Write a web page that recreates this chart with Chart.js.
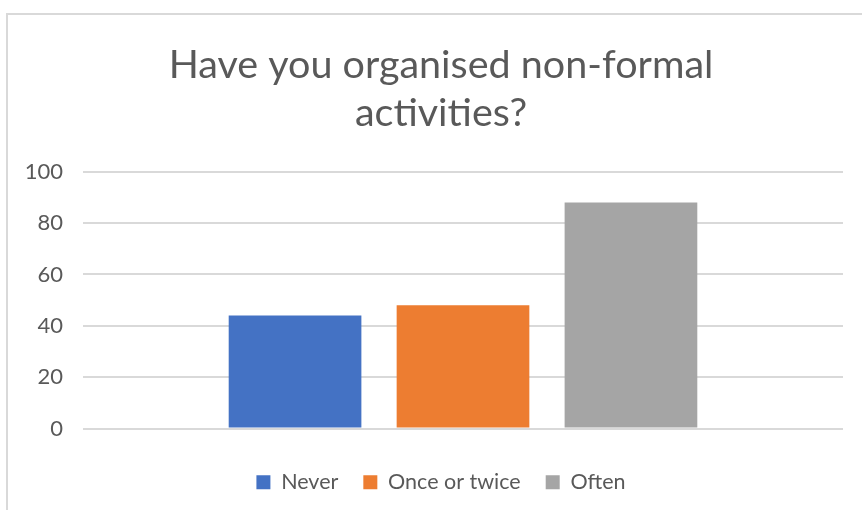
<!DOCTYPE html>
<html>
<head>
<meta charset="utf-8">
<script src="https://cdn.jsdelivr.net/npm/chart.js@4"></script>
<style>
    html, body { margin: 0; padding: 0; background: #ffffff; }
    #graph-container { width: 862px; height: 510px; position: relative; }
</style>
</head>
<body>
<div id="graph-container">
    <canvas id="myChart" width="862" height="510"></canvas>
</div>
<script>
// single category, one dataset per answer
var categories = [''];
var seriesNames = ['Never', 'Once or twice', 'Often'];
var seriesValues = [44, 48, 88];
var seriesColors = ['#4472C4', '#ED7D31', '#A5A5A5'];
var yTicks = [0, 20, 40, 60, 80, 100];

var textColor = '#595959';
var fontFamily = 'Lato, "Open Sans", sans-serif';

// thin grey frame round the chart (only left and top edges are on screen)
var framePlugin = {
    id: 'frame',
    beforeDraw: function (chart) {
        var ctx = chart.ctx;
        ctx.save();
        ctx.strokeStyle = '#D9D9D9';
        ctx.lineWidth = 2;
        ctx.beginPath();
        ctx.moveTo(7, chart.height);
        ctx.lineTo(7, 14);
        ctx.lineTo(chart.width, 14);
        ctx.stroke();
        ctx.restore();
    }
};

var datasets = [];
for (var i = 0; i < seriesNames.length; i++) {
    datasets.push({
        label: seriesNames[i],
        data: [seriesValues[i]],
        backgroundColor: seriesColors[i],
        borderWidth: 0,
        categoryPercentage: 0.663,
        barPercentage: 0.79
    });
}

var myChart = null;

function drawChart() {
    if (myChart != null) {
        myChart.destroy();
    }
    const ctx = document.getElementById('myChart').getContext('2d');
    myChart = new Chart(ctx, {
        type: 'bar',
        data: {
            labels: categories,
            datasets: datasets
        },
        plugins: [framePlugin],
        options: {
            responsive: false,
            animation: { duration: 0 },
            layout: {
                padding: { left: 20, right: 0, top: 42, bottom: 7 }
            },
            plugins: {
                title: {
                    display: true,
                    text: ['Have you organised non-formal', 'activities?'],
                    color: textColor,
                    font: { family: fontFamily, size: 39.5, weight: 'normal', lineHeight: 1.2 },
                    padding: { top: 0, bottom: 35 }
                },
                legend: {
                    position: 'bottom',
                    labels: {
                        color: textColor,
                        font: { family: fontFamily, size: 21.5 },
                        boxWidth: 14,
                        boxHeight: 14,
                        padding: 25
                    }
                },
                tooltip: { enabled: false }
            },
            scales: {
                x: {
                    grid: { display: false },
                    border: { display: false },
                    ticks: { display: false },
                    afterFit: function (scale) { scale.height = 18; }
                },
                y: {
                    min: 0,
                    max: 100,
                    afterBuildTicks: function (scale) {
                        scale.ticks = yTicks.map(function (v) { return { value: v }; });
                    },
                    afterFit: function (scale) { scale.width = 63; },
                    grid: { color: '#D9D9D9', lineWidth: 2, drawTicks: false },
                    border: { display: false },
                    ticks: {
                        color: textColor,
                        font: { family: fontFamily, size: 22 },
                        padding: 20
                    }
                },
                // empty right-hand gutter so the plot ends short of the edge
                yRight: {
                    position: 'right',
                    grid: { display: false },
                    border: { display: false },
                    ticks: { display: false },
                    afterFit: function (scale) { scale.width = 19; }
                }
            }
        }
    });
}

drawChart();
</script>
</body>
</html>
